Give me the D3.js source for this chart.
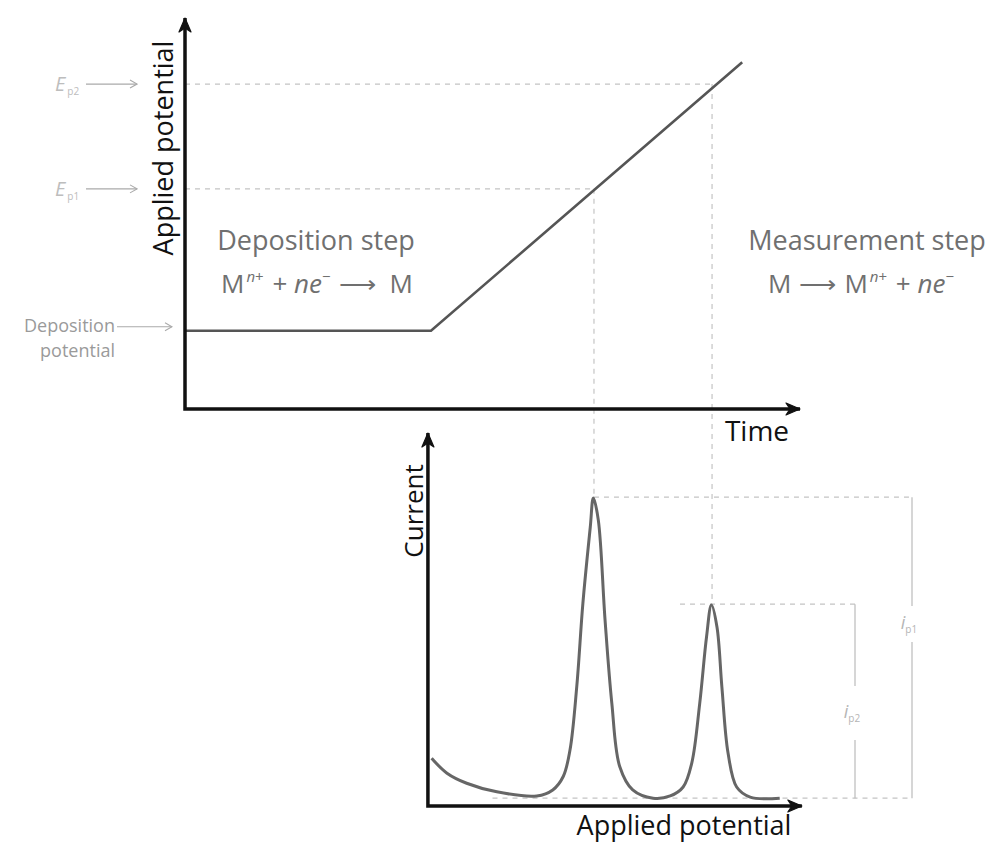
<!DOCTYPE html>
<html><head><meta charset="utf-8">
<script src="https://cdn.jsdelivr.net/npm/d3@7"></script>
<style>html,body{margin:0;padding:0;background:#fff}svg{display:block;font-family:"Open Sans",sans-serif}</style>
</head><body>
<script>
// ---- data ----
const potTime = [0, 4, 9.06];          // time (a.u.)
const potValue = [2, 2, 8.87];         // applied potential (a.u.)
const peakLabelsE = ["p2", "p1"];
const peakPotentials = [8.31, 5.63];   // E_p2, E_p1
const peakTimes = [8.57, 6.65];        // time at which each peak potential is reached
const peakCurrents = [5.41, 8.28];     // i_p2, i_p1
const baselineCurrent = 0.21;
const depositionPotential = 2;
const curveE = [4.01,4.26,4.58,5.07,5.72,5.98,6.15,6.26,6.37,6.47,6.59,6.64,6.72,6.83,6.94,7.07,7.28,7.61,7.89,8.10,8.24,8.37,8.48,8.56,8.65,8.73,8.83,8.97,9.19,9.67];
const curveI = [1.28,0.88,0.61,0.38,0.27,0.43,0.79,1.50,3.20,5.44,7.48,8.26,7.67,4.99,2.76,1.05,0.43,0.21,0.27,0.51,1.15,2.76,4.53,5.39,4.80,3.19,1.42,0.51,0.24,0.21];

const W = 990, H = 843;
const svg = d3.select("body").append("svg").attr("width", W).attr("height", H);

const xT = d3.scaleLinear().domain([0, 10]).range([185, 800]);
const yE = d3.scaleLinear().domain([0, 10]).range([409, 18]);
const yI = d3.scaleLinear().domain([0, 10]).range([806, 433]);

const defs = svg.append("defs");
defs.append("marker").attr("id", "ax").attr("viewBox", "0 0 16 14").attr("refX", 15).attr("refY", 7)
  .attr("markerWidth", 16).attr("markerHeight", 14).attr("markerUnits", "userSpaceOnUse").attr("orient", "auto-start-reverse")
  .append("path").attr("d", "M1,1 L15,7 L1,13 L5,7 Z").attr("fill", "#111").attr("stroke", "#111").attr("stroke-width", 1.2).attr("stroke-linejoin", "round");
defs.append("marker").attr("id", "lab").attr("viewBox", "0 0 10 10").attr("refX", 9).attr("refY", 5)
  .attr("markerWidth", 10).attr("markerHeight", 10).attr("markerUnits", "userSpaceOnUse").attr("orient", "auto")
  .append("path").attr("d", "M2,1 L9,5 L2,9").attr("fill", "none").attr("stroke", "#aaa").attr("stroke-width", 1.1);

const dashCol = "#c4c4c4";
const dash = "5,5";

// ---- guide dashed lines ----
const guides = svg.append("g").attr("stroke", dashCol).attr("stroke-width", 1.2).attr("stroke-dasharray", dash).attr("fill", "none");
peakPotentials.forEach((E, k) => {
  guides.append("line").attr("x1", xT(0)).attr("x2", xT(peakTimes[k])).attr("y1", yE(E)).attr("y2", yE(E));
  guides.append("line").attr("x1", xT(peakTimes[k])).attr("x2", xT(peakTimes[k])).attr("y1", yE(E)).attr("y2", yI(peakCurrents[k]));
});
// bracket positions (layout)
const bracketX = [855, 912];
const peakDashStart = [680, xT(peakTimes[1])];
peakCurrents.forEach((c, k) => {
  guides.append("line").attr("x1", peakDashStart[k]).attr("x2", bracketX[k]).attr("y1", yI(c)).attr("y2", yI(c));
});
guides.append("line").attr("x1", xT(5.0)).attr("x2", bracketX[1]).attr("y1", yI(baselineCurrent)).attr("y2", yI(baselineCurrent));

// brackets (solid) with labels
const brLab = [{sub: "p2", gap: [686, 740]}, {sub: "p1", gap: [606, 642]}];
peakCurrents.forEach((c, k) => {
  const x = bracketX[k];
  svg.append("line").attr("x1", x).attr("x2", x).attr("y1", yI(c)).attr("y2", brLab[k].gap[0]).attr("stroke", "#bbb").attr("stroke-width", 1.2);
  svg.append("line").attr("x1", x).attr("x2", x).attr("y1", brLab[k].gap[1]).attr("y2", yI(baselineCurrent)).attr("stroke", "#bbb").attr("stroke-width", 1.2);
  const t = svg.append("text").attr("x", x - 3).attr("y", (brLab[k].gap[0] + brLab[k].gap[1]) / 2 + 5).attr("fill", "#b5b5b5").attr("font-size", 18).attr("text-anchor", "middle");
  t.append("tspan").attr("font-style", "italic").text("i");
  t.append("tspan").attr("font-size", 10).attr("dy", 4).text(brLab[k].sub);
});

// ---- top chart: potential vs time ----
const potLine = d3.line().x((d, i) => xT(potTime[i])).y((d, i) => yE(potValue[i]));
svg.append("path").attr("d", potLine(potTime)).attr("fill", "none").attr("stroke", "#555").attr("stroke-width", 2.6);

// ---- bottom chart: current vs potential ----
const curLine = d3.line().x((d, i) => xT(curveE[i])).y((d, i) => yI(curveI[i])).curve(d3.curveCatmullRom.alpha(0.5));
svg.append("path").attr("d", curLine(curveE)).attr("fill", "none").attr("stroke", "#666").attr("stroke-width", 3).attr("stroke-linejoin", "round");

// ---- axes ----
svg.append("path").attr("d", `M${xT(0)},${yE(10)} L${xT(0)},${yE(0)} L${xT(10)},${yE(0)}`)
  .attr("fill", "none").attr("stroke", "#111").attr("stroke-width", 3.5).attr("marker-start", "url(#ax)").attr("marker-end", "url(#ax)");
svg.append("path").attr("d", `M${xT(3.95)},${yI(10)} L${xT(3.95)},${yI(0)} L${xT(10.03)},${yI(0)}`)
  .attr("fill", "none").attr("stroke", "#111").attr("stroke-width", 3.5).attr("marker-start", "url(#ax)").attr("marker-end", "url(#ax)");

// axis titles
svg.append("text").attr("transform", `translate(173,148) rotate(-90)`).attr("text-anchor", "middle").attr("font-size", 27).attr("font-weight", 500).attr("fill", "#111").text("Applied potential");
svg.append("text").attr("x", 757).attr("y", 441).attr("text-anchor", "middle").attr("font-size", 28).attr("fill", "#111").text("Time");
svg.append("text").attr("transform", `translate(423,511) rotate(-90)`).attr("text-anchor", "middle").attr("font-size", 26).attr("fill", "#111").text("Current");
svg.append("text").attr("x", 684).attr("y", 835).attr("text-anchor", "middle").attr("font-size", 27).attr("fill", "#111").text("Applied potential");

// ---- left labels ----
peakPotentials.forEach((E, k) => {
  const y = yE(E);
  const t = svg.append("text").attr("x", 55).attr("y", y + 7).attr("fill", "#bdbdbd").attr("font-size", 20);
  t.append("tspan").attr("font-style", "italic").text("E");
  t.append("tspan").attr("font-size", 10).attr("dy", 4).attr("dx", 2).text(peakLabelsE[k]);
  svg.append("line").attr("x1", 86).attr("x2", 137).attr("y1", y).attr("y2", y).attr("stroke", "#aaa").attr("stroke-width", 1.1).attr("marker-end", "url(#lab)");
});
const yd = yE(depositionPotential) - 4;
svg.append("text").attr("x", 115).attr("y", yd + 5).attr("text-anchor", "end").attr("font-size", 18).attr("fill", "#9a9a9a").text("Deposition");
svg.append("text").attr("x", 115).attr("y", yd + 30).attr("text-anchor", "end").attr("font-size", 18).attr("fill", "#9a9a9a").text("potential");
svg.append("line").attr("x1", 117).attr("x2", 172).attr("y1", yd).attr("y2", yd).attr("stroke", "#aaa").attr("stroke-width", 1.1).attr("marker-end", "url(#lab)");

// ---- step texts ----
const stepCol = "#707070";
svg.append("text").attr("x", 316).attr("y", 250).attr("text-anchor", "middle").attr("font-size", 27).attr("fill", stepCol).text("Deposition step");
svg.append("text").attr("x", 867).attr("y", 250).attr("text-anchor", "middle").attr("font-size", 27).attr("fill", stepCol).text("Measurement step");

function eq(x, y, parts) {
  const t = svg.append("text").attr("x", x).attr("y", y).attr("text-anchor", "middle").attr("font-size", 26).attr("fill", stepCol);
  let up = false;
  parts.forEach(p => {
    const s = t.append("tspan").text(p.t);
    if (p.i) s.attr("font-style", "italic");
    if (p.dx) s.attr("dx", p.dx);
    if (p.sup) { s.attr("font-size", 15); if (!up) { s.attr("dy", -11); up = true; } }
    else if (up) { s.attr("dy", 11); up = false; }
  });
}
eq(317, 293, [{t: "M"}, {t: "n", i: 1, sup: 1, dx: 2}, {t: "+", sup: 1}, {t: " + ", dx: 2}, {t: "ne", i: 1}, {t: "−", sup: 1}, {t: "⟶", dx: 8}, {t: "M", dx: 14}]);
eq(861, 293, [{t: "M"}, {t: "⟶", dx: 8}, {t: "M", dx: 8}, {t: "n", i: 1, sup: 1, dx: 2}, {t: "+", sup: 1}, {t: " + ", dx: 2}, {t: "ne", i: 1}, {t: "−", sup: 1}]);
</script>
</body></html>
